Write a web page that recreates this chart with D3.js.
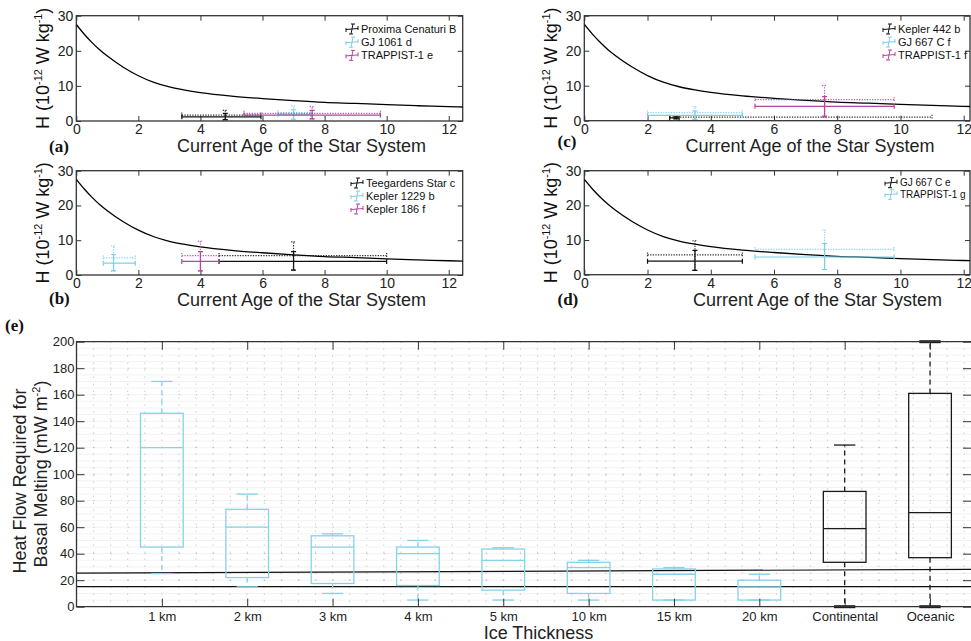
<!DOCTYPE html>
<html>
<head>
<meta charset="utf-8">
<script src="https://cdn.jsdelivr.net/npm/d3@7"></script>
<style>
  body { margin: 0; background: #fff; }
  svg { display: block; }
  text { font-family: "Liberation Sans", Arial, Helvetica, sans-serif; }
  text.tag { font-family: "Liberation Serif", "Times New Roman", serif; font-weight: bold; }
</style>
</head>
<body>
<svg id="fig" width="971" height="641"></svg>
<script>
// ---- data: heat production curve ----
const ageGrid   = [0, 0.25, 0.5, 0.75, 1, 1.5, 2, 2.5, 3, 3.5, 4, 5, 6, 7, 8, 9, 10, 11, 12, 12.6];
const heatCurve = [27.5, 24.8, 22.4, 20.3, 18.5, 15.4, 12.9, 11.0, 9.7, 8.8, 8.1, 7.1, 6.4, 5.8, 5.3, 5.0, 4.65, 4.35, 4.1, 3.95];
const ageTicks  = [0, 2, 4, 6, 8, 10, 12];
const heatTicks = [0, 10, 20, 30];

// ---- data: planets, solid = low estimate, dotted = high estimate ----
const planetsA = [
  { name: "Proxima Cenaturi B", x: 4.8,
    solid:  { xr: [3.4, 5.95], y: 1.2, yr: [0.4, 2.2] },
    dotted: { xr: [3.4, 5.95], y: 1.7, yr: [0.4, 3.0] } },
  { name: "GJ 1061 d", x: 7.0,
    solid:  { xr: [6.5, 7.55], y: 1.9, yr: [0.5, 3.2] },
    dotted: { xr: [6.5, 7.55], y: 2.4, yr: [0.5, 4.3] } },
  { name: "TRAPPIST-1 e", x: 7.6,
    solid:  { xr: [5.4, 9.8], y: 1.7, yr: [0.6, 3.0] },
    dotted: { xr: [5.4, 9.8], y: 2.2, yr: [0.6, 4.1] } }
];
const planetsB = [
  { name: "Teegardens Star c", x: 7.0,
    solid:  { xr: [4.6, 10.0], y: 3.9, yr: [1.4, 6.7] },
    dotted: { xr: [4.6, 10.0], y: 5.6, yr: [1.5, 9.5] } },
  { name: "Kepler 1229 b", x: 1.2,
    solid:  { xr: [0.87, 1.9], y: 3.4, yr: [1.3, 5.9] },
    dotted: { xr: [0.87, 1.9], y: 4.9, yr: [1.0, 8.4] } },
  { name: "Kepler 186 f", x: 4.0,
    solid:  { xr: [3.4, 4.6], y: 3.9, yr: [1.2, 6.7] },
    dotted: { xr: [3.4, 4.6], y: 5.6, yr: [1.2, 9.7] } }
];
const planetsC = [
  { name: "Kepler 442 b", x: 2.9,
    solid:  { xr: [2.7, 3.0], y: 0.8, yr: [0.5, 1.1] },
    dotted: { xr: [2.7, 11.0], y: 1.0, yr: [0.6, 1.3] } },
  { name: "GJ 667 C f", x: 3.5,
    solid:  { xr: [2.0, 5.0], y: 1.5, yr: [0.4, 2.8] },
    dotted: { xr: [2.0, 5.0], y: 2.3, yr: [0.4, 4.0] } },
  { name: "TRAPPIST-1 f", x: 7.6,
    solid:  { xr: [5.4, 9.8], y: 4.1, yr: [1.3, 6.9] },
    dotted: { xr: [5.4, 9.8], y: 6.0, yr: [1.0, 10.0] } }
];
const planetsD = [
  { name: "GJ 667 C e", x: 3.5,
    solid:  { xr: [2.0, 5.0], y: 3.9, yr: [1.25, 7.0] },
    dotted: { xr: [2.0, 5.0], y: 5.7, yr: [1.25, 9.8] } },
  { name: "TRAPPIST-1 g", x: 7.6,
    solid:  { xr: [5.4, 9.8], y: 5.1, yr: [1.5, 9.0] },
    dotted: { xr: [5.4, 9.8], y: 7.3, yr: [1.5, 12.9] } }
];

// ---- data: box plot of heat flow for basal melting ----
const iceCategories = ["1 km", "2 km", "3 km", "4 km", "5 km", "10 km", "15 km", "20 km", "Continental", "Oceanic"];
const whiskerLow  = [25, 15, 10, 5, 5, 5, 5, 5, 0, 0];
const quart1      = [45, 22, 17.5, 16, 12.5, 10, 5, 5, 33.5, 37];
const medians     = [120, 60, 45, 40, 35, 29.5, 24.5, 15, 59, 71];
const quart3      = [146, 73.5, 53.5, 45, 43.5, 33.5, 28.5, 20, 87, 161];
const whiskerHigh = [170, 85, 55, 50, 44.5, 35, 29.5, 24.5, 122, 200];
const flowTicks   = [0, 20, 40, 60, 80, 100, 120, 140, 160, 180, 200];
const refLineLow  = [[0, 15.1], [10.48, 15.1]];
const refLineHigh = [[0, 25.3], [10.48, 28.2]];

const seriesColors = ["#111111", "#7ccfe8", "#b8439b"];
const svg = d3.select("#fig");

function yLabel(g, x, y, size) {
  const t = g.append("text")
    .attr("transform", `translate(${x},${y}) rotate(-90)`)
    .attr("text-anchor", "middle")
    .attr("font-size", size)
    .attr("fill", "#111");
  t.append("tspan").text("H (10");
  t.append("tspan").attr("font-size", size * 0.6).attr("dy", -size * 0.38).text("-12");
  t.append("tspan").attr("dy", size * 0.38).text(" W kg");
  t.append("tspan").attr("font-size", size * 0.6).attr("dy", -size * 0.38).text("-1");
  t.append("tspan").attr("dy", size * 0.38).text(")");
}

function drawAgePanel(p) {
  const x = d3.scaleLinear().domain([0, p.xmax]).range([p.left, p.right]);
  const y = d3.scaleLinear().domain([0, 30]).range([p.bottom, p.top]);
  const g = svg.append("g");
  const clipId = "clip" + p.tag;
  g.append("clipPath").attr("id", clipId).append("rect")
    .attr("x", p.left).attr("y", p.top).attr("width", p.right - p.left).attr("height", p.bottom - p.top);

  // axes, ticks inward
  g.append("g").attr("transform", `translate(0,${p.bottom})`)
    .call(d3.axisBottom(x).tickValues(ageTicks).tickSize(-5).tickSizeOuter(0).tickPadding(3));
  g.append("g").attr("transform", `translate(0,${p.top})`)
    .call(d3.axisTop(x).tickValues(ageTicks).tickSize(-5).tickSizeOuter(0).tickFormat(""));
  g.append("g").attr("transform", `translate(${p.left},0)`)
    .call(d3.axisLeft(y).tickValues(heatTicks).tickSize(-5).tickSizeOuter(0).tickPadding(3));
  g.append("g").attr("transform", `translate(${p.right},0)`)
    .call(d3.axisRight(y).tickValues(heatTicks).tickSize(-5).tickSizeOuter(0).tickFormat(""));
  g.selectAll(".domain").remove();
  g.selectAll(".tick line").attr("stroke", "#333").attr("stroke-width", 1);
  g.selectAll(".tick text").attr("font-size", 14).attr("fill", "#222");
  g.append("rect").attr("x", p.left).attr("y", p.top)
    .attr("width", p.right - p.left).attr("height", p.bottom - p.top)
    .attr("fill", "none").attr("stroke", "#333").attr("stroke-width", 1.3);

  // curve
  const line = d3.line().x((d, i) => x(ageGrid[i])).y(d => y(d)).curve(d3.curveMonotoneX);
  g.append("path").datum(heatCurve).attr("d", line)
    .attr("clip-path", `url(#${clipId})`)
    .attr("fill", "none").attr("stroke", "#000").attr("stroke-width", 1.3);

  // error bars
  const bars = g.append("g").attr("clip-path", `url(#${clipId})`);
  p.planets.forEach((pl, i) => {
    const col = seriesColors[i];
    ["dotted", "solid"].forEach(kind => {
      const v = pl[kind];
      const bg = bars.append("g").attr("stroke", col).attr("stroke-width", 1.2)
        .attr("stroke-dasharray", kind === "dotted" ? "1.3,1.3" : null)
        .attr("opacity", kind === "dotted" ? 0.85 : 1);
      bg.append("line").attr("x1", x(v.xr[0])).attr("x2", x(v.xr[1])).attr("y1", y(v.y)).attr("y2", y(v.y));
      v.xr.forEach(e => bg.append("line").attr("x1", x(e)).attr("x2", x(e))
        .attr("y1", y(v.y) - 2.5).attr("y2", y(v.y) + 2.5).attr("stroke-dasharray", null));
      bg.append("line").attr("x1", x(pl.x)).attr("x2", x(pl.x)).attr("y1", y(v.yr[0])).attr("y2", y(v.yr[1]));
      v.yr.forEach(e => bg.append("line").attr("y1", y(e)).attr("y2", y(e))
        .attr("x1", x(pl.x) - 2.5).attr("x2", x(pl.x) + 2.5).attr("stroke-dasharray", null));
    });
  });

  // legend
  p.planets.forEach((pl, i) => {
    const col = seriesColors[i];
    const ly = p.legendY + i * p.legendStep;
    const lg = g.append("g").attr("stroke", col).attr("stroke-width", 1);
    const mx = p.legendX;
    lg.append("line").attr("x1", mx - 6).attr("x2", mx + 6).attr("y1", ly + 0.5).attr("y2", ly - 0.5);
    lg.append("line").attr("x1", mx + 1).attr("x2", mx - 1).attr("y1", ly - 5).attr("y2", ly + 5);
    lg.append("line").attr("x1", mx - 1).attr("x2", mx + 3).attr("y1", ly - 5).attr("y2", ly - 5);
    lg.append("line").attr("x1", mx - 3).attr("x2", mx + 1).attr("y1", ly + 5).attr("y2", ly + 5);
    lg.append("line").attr("x1", mx + 6).attr("x2", mx + 6).attr("y1", ly - 3).attr("y2", ly + 1);
    lg.append("line").attr("x1", mx - 6).attr("x2", mx - 6).attr("y1", ly - 1).attr("y2", ly + 3);
    g.append("text").attr("x", p.legendX + 9).attr("y", ly).attr("dy", "0.35em")
      .attr("font-size", p.legendFont).attr("fill", "#111").text(pl.name);
  });

  // labels
  yLabel(g, p.left - 27, (p.top + p.bottom) / 2, 18);
  g.append("text").attr("x", p.xLabelX).attr("y", p.bottom + 31).attr("text-anchor", "middle")
    .attr("font-size", 18).attr("fill", "#222").text("Current Age of the Star System");
  g.append("text").attr("class", "tag").attr("x", p.tagX).attr("y", p.bottom + p.tagDy)
    .attr("font-size", 17).attr("fill", "#111").text(`(${p.tag})`);
}

drawAgePanel({ tag: "a", planets: planetsA, left: 76.3, right: 462.7, top: 15.7, bottom: 121, xmax: 12.45,
  legendX: 352, legendY: 29, legendStep: 13.2, legendFont: 11, xLabelX: 301.5, tagX: 49, tagDy: 31 });
drawAgePanel({ tag: "b", planets: planetsB, left: 76.3, right: 462.7, top: 170.7, bottom: 275, xmax: 12.45,
  legendX: 357, legendY: 183, legendStep: 13, legendFont: 11, xLabelX: 301.5, tagX: 49, tagDy: 28.5 });
drawAgePanel({ tag: "c", planets: planetsC, left: 584.3, right: 970, top: 15.7, bottom: 120.7, xmax: 12.2,
  legendX: 889, legendY: 29, legendStep: 13, legendFont: 11, xLabelX: 810, tagX: 557.5, tagDy: 26 });
drawAgePanel({ tag: "d", planets: planetsD, left: 584.3, right: 970, top: 170.7, bottom: 274.7, xmax: 12.2,
  legendX: 891, legendY: 182.7, legendStep: 11.6, legendFont: 10, xLabelX: 817.5, tagX: 557.5, tagDy: 30 });

// ---- panel (e) ----
(function () {
  const left = 76.5, right = 971, top = 341.7, bottom = 606.7;
  const x = d3.scaleLinear().domain([0, 10.48]).range([left, right]);
  const y = d3.scaleLinear().domain([0, 200]).range([bottom, top]);
  const g = svg.append("g");

  // grid
  const grid = g.append("g");
  d3.range(5, 200, 5).forEach(v => grid.append("line")
    .attr("x1", left).attr("x2", right).attr("y1", y(v)).attr("y2", y(v))
    .attr("stroke", "#efefef").attr("stroke-width", 0.8));
  d3.range(0.2, 10.48, 0.2).forEach(v => grid.append("line")
    .attr("x1", x(v)).attr("x2", x(v)).attr("y1", top).attr("y2", bottom)
    .attr("stroke", "#a5a5a5").attr("stroke-width", 0.8).attr("stroke-dasharray", "1,6"));
  flowTicks.slice(1, -1).forEach(v => grid.append("line")
    .attr("x1", left).attr("x2", right).attr("y1", y(v)).attr("y2", y(v))
    .attr("stroke", "#a0a0a0").attr("stroke-width", 0.8).attr("stroke-dasharray", "1,16.07"));

  // reference lines
  const rl = d3.line().x(d => x(d[0])).y(d => y(d[1]));
  [refLineLow, refLineHigh].forEach(r => g.append("path").attr("d", rl(r))
    .attr("fill", "none").attr("stroke", "#111").attr("stroke-width", 1.2));

  // boxes
  iceCategories.forEach((c, i) => {
    const cx = x(i + 1);
    const col = i < 8 ? "#86d2ea" : "#1a1a1a";
    const bw = x(0.25) - x(0), cw = x(0.125) - x(0);
    const bg = g.append("g").attr("stroke", col).attr("stroke-width", 1.3).attr("fill", "none");
    bg.append("line").attr("x1", cx).attr("x2", cx).attr("y1", y(quart3[i])).attr("y2", y(whiskerHigh[i]))
      .attr("stroke-dasharray", "5,4");
    bg.append("line").attr("x1", cx).attr("x2", cx).attr("y1", y(quart1[i])).attr("y2", y(whiskerLow[i]))
      .attr("stroke-dasharray", "5,4");
    bg.append("line").attr("x1", cx - cw).attr("x2", cx + cw).attr("y1", y(whiskerHigh[i])).attr("y2", y(whiskerHigh[i]))
      .attr("stroke-width", whiskerHigh[i] >= 200 ? 3 : 1.3);
    bg.append("line").attr("x1", cx - cw).attr("x2", cx + cw).attr("y1", y(whiskerLow[i])).attr("y2", y(whiskerLow[i]))
      .attr("stroke-width", whiskerLow[i] <= 0 ? 3 : 1.3);
    bg.append("rect").attr("x", cx - bw).attr("width", 2 * bw)
      .attr("y", y(quart3[i])).attr("height", y(quart1[i]) - y(quart3[i]));
    bg.append("line").attr("x1", cx - bw).attr("x2", cx + bw).attr("y1", y(medians[i])).attr("y2", y(medians[i]));
  });

  // axes
  const cats = d3.range(1, iceCategories.length + 1);
  g.append("g").attr("transform", `translate(0,${bottom})`)
    .call(d3.axisBottom(x).tickValues(cats).tickFormat(k => iceCategories[k - 1]).tickSize(-8).tickSizeOuter(0).tickPadding(5));
  g.append("g").attr("transform", `translate(0,${top})`)
    .call(d3.axisTop(x).tickValues(cats).tickFormat("").tickSize(-8).tickSizeOuter(0));
  g.append("g").attr("transform", `translate(${left},0)`)
    .call(d3.axisLeft(y).tickValues(flowTicks).tickSize(-8).tickSizeOuter(0).tickPadding(2));
  g.append("g").attr("transform", `translate(${right},0)`)
    .call(d3.axisRight(y).tickValues(flowTicks).tickFormat("").tickSize(-8).tickSizeOuter(0));
  g.selectAll(".domain").remove();
  g.selectAll(".tick line").attr("stroke", "#333").attr("stroke-width", 1);
  g.selectAll(".tick text").attr("font-size", 13).attr("fill", "#222");
  g.append("path").attr("d", `M${right},${top}H${left}V${bottom}H${right}`)
    .attr("fill", "none").attr("stroke", "#333").attr("stroke-width", 1.3);

  // labels
  g.append("text").attr("x", 538.5).attr("y", 638.5).attr("text-anchor", "middle")
    .attr("font-size", 18).attr("fill", "#222").text("Ice Thickness");
  g.append("text").attr("transform", "translate(26,481) rotate(-90)").attr("text-anchor", "middle")
    .attr("font-size", 18).attr("fill", "#222").text("Heat Flow Required for");
  const t2 = g.append("text").attr("transform", "translate(46.5,474) rotate(-90)").attr("text-anchor", "middle")
    .attr("font-size", 18).attr("fill", "#222");
  t2.append("tspan").text("Basal Melting (mW m");
  t2.append("tspan").attr("font-size", 11).attr("dy", -7).text("-2");
  t2.append("tspan").attr("dy", 7).text(")");
  g.append("text").attr("class", "tag").attr("x", 5).attr("y", 331)
    .attr("font-size", 17).attr("fill", "#111").text("(e)");
})();
</script>
</body>
</html>
